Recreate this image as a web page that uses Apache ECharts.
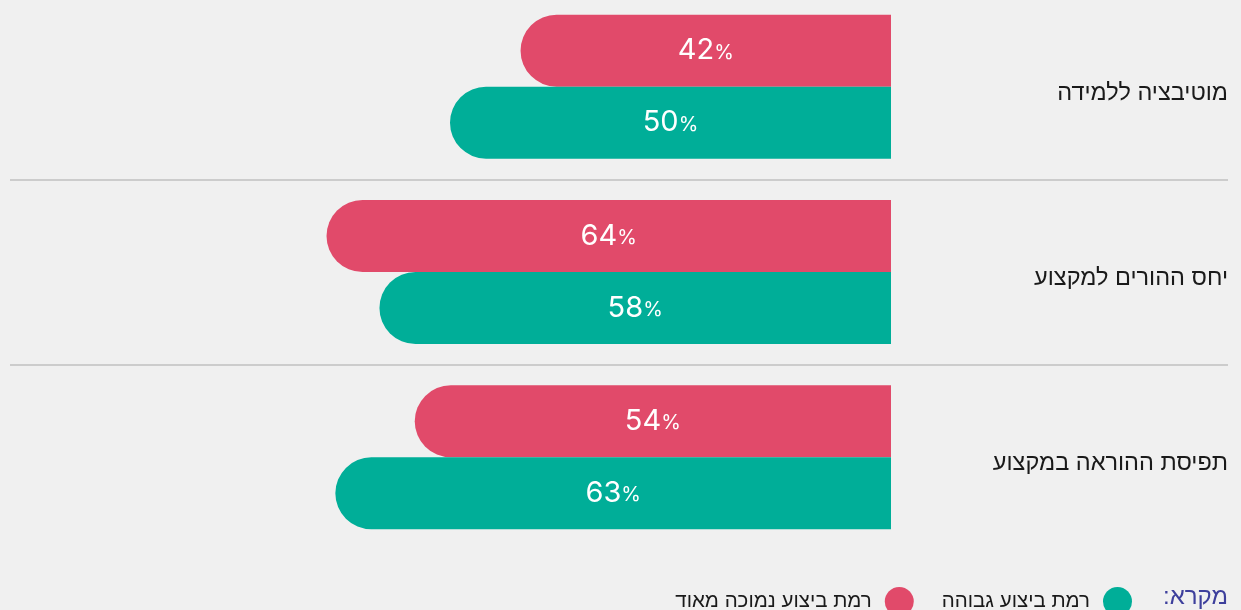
<!DOCTYPE html>
<html>
<head>
<meta charset="utf-8">
<script src="https://cdn.jsdelivr.net/npm/echarts@6/dist/echarts.min.js"></script>
<style>
  html, body { margin: 0; padding: 0; background: #f0f0f0; }
  #chart { width: 1241px; height: 610px; }
</style>
</head>
<body>
<div id="chart"></div>
<script>
// נתונים
var categories = ['מוטיבציה ללמידה', 'יחס ההורים למקצוע', 'תפיסת ההוראה במקצוע']
var lowValues = [42, 64, 54]   // רמת ביצוע נמוכה מאוד
var highValues = [50, 58, 63]  // רמת ביצוע גבוהה
var seriesNames = ['רמת ביצוע נמוכה מאוד', 'רמת ביצוע גבוהה']
var legendTitle = 'מקרא:'

var RED = '#E14A6A'
var TEAL = '#00AE98'
var HEB_FONT = '"Liberation Sans", "DejaVu Sans", sans-serif'
var NUM_FONT = 'Inter, Roboto, sans-serif'

function barLabel() {
  return {
    show: true,
    position: 'inside',
    formatter: function (p) { return '{n|' + p.value + '}{p|%}' },
    rich: {
      n: { fontFamily: NUM_FONT, fontSize: 29, color: '#fff' },
      p: { fontFamily: NUM_FONT, fontSize: 20, color: '#fff', padding: [4, 0, 0, 0] }
    }
  }
}

var myChart = echarts.init(document.getElementById('chart'))
var option = {
  backgroundColor: '#f0f0f0',
  animation: false,
  grid: [
    { left: 9, right: 350, top: -6, height: 556, outerBoundsMode: 'none' },
    // רשת נוספת רק לקווי ההפרדה
    { left: 10, right: 13, top: -6, height: 556, outerBoundsMode: 'none' }
  ],
  legend: {
    data: [seriesNames[0], seriesNames[1]],
    top: 582,
    right: 104,
    align: 'right',
    icon: 'circle',
    itemWidth: 29,
    itemHeight: 29,
    itemGap: 28,
    selectedMode: false,
    textStyle: {
      fontFamily: HEB_FONT,
      fontSize: 20.5,
      color: '#1a1a1a',
      padding: [0, 8, 0, 0]
    }
  },
  graphic: [
    {
      type: 'text',
      right: 13,
      top: 585,
      style: {
        text: legendTitle + '\u200F',
        fontFamily: HEB_FONT,
        fontSize: 24,
        fill: '#3d3f9c'
      }
    }
  ],
  xAxis: [
    { type: 'value', gridIndex: 0, min: 0, max: 100, inverse: true, show: false },
    { type: 'value', gridIndex: 1, show: false }
  ],
  yAxis: [
    {
      type: 'category',
      gridIndex: 0,
      data: categories,
      inverse: true,
      position: 'right',
      axisLine: { show: false },
      axisTick: { show: false },
      splitLine: { show: false },
      axisLabel: {
        align: 'right',
        verticalAlign: 'top',
        lineHeight: 13,
        margin: 337,
        fontFamily: HEB_FONT,
        fontSize: 23.5,
        color: '#1a1a1a'
      }
    },
    {
      // לא הפוך: הקו האחרון נופל מעל הגרף ולא נראה
      type: 'category',
      gridIndex: 1,
      data: categories.slice().reverse(),
      axisLine: { show: false },
      axisTick: { show: false },
      axisLabel: { show: false },
      splitLine: {
        show: true,
        interval: function (index) { return index === 1 || index === 2 },
        lineStyle: { color: '#cccccc', width: 2 }
      }
    }
  ],
  series: [
    {
      name: seriesNames[0],
      type: 'bar',
      xAxisIndex: 0,
      yAxisIndex: 0,
      data: lowValues,
      barWidth: 72,
      barGap: '0%',
      itemStyle: { color: RED, borderRadius: [36, 0, 0, 36] },
      label: barLabel()
    },
    {
      name: seriesNames[1],
      type: 'bar',
      xAxisIndex: 0,
      yAxisIndex: 0,
      data: highValues,
      barWidth: 72,
      barGap: '0%',
      itemStyle: { color: TEAL, borderRadius: [36, 0, 0, 36] },
      label: barLabel()
    }
  ]
}
myChart.setOption(option)
window.addEventListener('resize', function () {
  myChart.resize()
})
</script>
</body>
</html>
